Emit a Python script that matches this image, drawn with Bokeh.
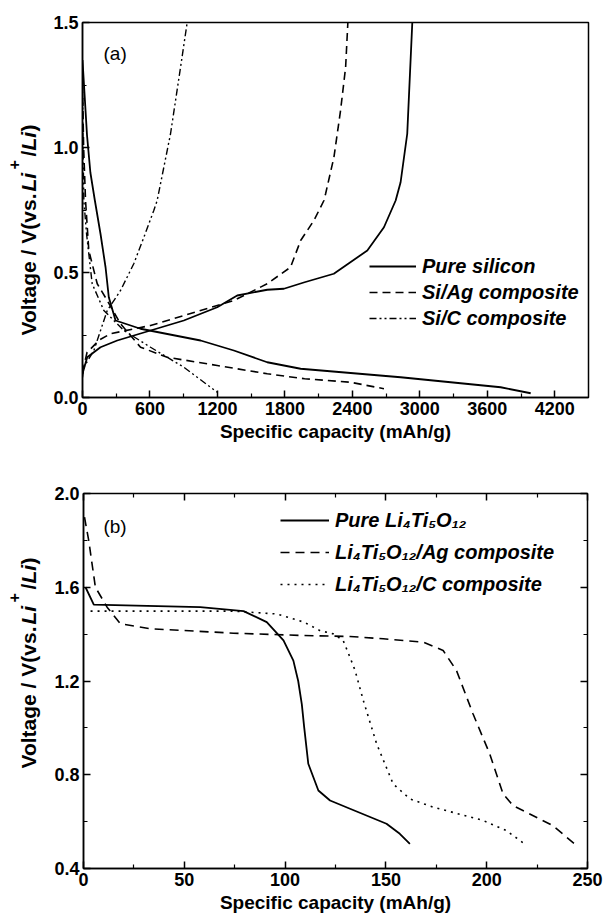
import math
from bokeh.plotting import figure
from bokeh.models import (Range1d, FixedTicker, NumeralTickFormatter, LinearAxis, Label)
from bokeh.layouts import column, row
from bokeh.embed import file_html
from bokeh.resources import INLINE

FONT = "Liberation Sans"

# ---------------- Panel (a) data: silicon anodes ----------------
si_dis_cap = [0, 20, 40, 70, 110, 160, 205, 234, 294, 516, 1050, 1346, 1643, 1940, 2829, 3719, 3986]
si_dis_v = [1.35, 1.2, 1.05, 0.9, 0.788, 0.655, 0.521, 0.401, 0.308, 0.275, 0.228, 0.188, 0.141, 0.115, 0.081, 0.041, 0.017]
si_chg_cap = [0, 42, 160, 309, 605, 901, 1198, 1376, 1643, 1791, 1975, 2235, 2533, 2681, 2785, 2829, 2888, 2933]
si_chg_v = [0.095, 0.161, 0.201, 0.228, 0.268, 0.308, 0.361, 0.408, 0.431, 0.435, 0.461, 0.495, 0.588, 0.681, 0.788, 0.861, 1.055, 1.5]

ag_dis_cap = [0, 10, 27, 56, 131, 220, 338, 516, 753, 1198, 1643, 1975, 2384, 2681]
ag_dis_v = [1.25, 1.0, 0.788, 0.588, 0.455, 0.388, 0.295, 0.201, 0.161, 0.128, 0.095, 0.075, 0.061, 0.035]
ag_chg_cap = [0, 40, 150, 249, 605, 1050, 1346, 1643, 1850, 1940, 2058, 2147, 2162, 2236, 2295, 2340, 2360]
ag_chg_v = [0.1, 0.18, 0.23, 0.255, 0.288, 0.348, 0.388, 0.455, 0.521, 0.628, 0.708, 0.788, 0.815, 0.961, 1.148, 1.321, 1.5]

sic_dis_cap = [0, 5, 12, 36, 86, 190, 368, 605, 901, 1198]
sic_dis_v = [1.3, 1.0, 0.788, 0.655, 0.455, 0.348, 0.268, 0.201, 0.121, 0.021]
sic_chg_cap = [0, 12, 101, 220, 338, 456, 546, 634, 664, 783, 872, 931]
sic_chg_v = [0.08, 0.121, 0.188, 0.348, 0.428, 0.535, 0.641, 0.748, 0.788, 1.055, 1.321, 1.5]

a_xticks = [0, 600, 1200, 1800, 2400, 3000, 3600, 4200]
a_xminor = [300, 900, 1500, 2100, 2700, 3300, 3900]
a_yticks = [0.0, 0.5, 1.0, 1.5]
a_yminor = [0.25, 0.75, 1.25]

# ---------------- Panel (b) data: Li4Ti5O12 ----------------
lto_cap = [1, 5.1, 57.9, 79.4, 90.9, 99.2, 104.1, 106.5, 108.3, 109.5, 111.5, 116.5, 122.3, 132.2, 150.3, 156.9, 161.9]
lto_v = [1.6, 1.526, 1.515, 1.498, 1.451, 1.373, 1.287, 1.2, 1.1, 1.0, 0.847, 0.733, 0.690, 0.655, 0.591, 0.548, 0.505]
ltoag_cap = [0.5, 2.6, 5.9, 11.7, 18.3, 33.2, 74.4, 109.4, 132.2, 148.7, 168.5, 178.4, 185, 193.2, 201.5, 208.1, 213, 219.7, 232.8, 243.6]
ltoag_v = [1.899, 1.799, 1.6, 1.515, 1.444, 1.423, 1.404, 1.394, 1.390, 1.380, 1.366, 1.330, 1.245, 1.060, 0.889, 0.719, 0.669, 0.640, 0.583, 0.505]
ltoc_cap = [3.5, 74.4, 95.9, 109.4, 117.3, 123.9, 128.8, 132.2, 134.7, 138.8, 145.4, 153.6, 161.9, 173.4, 198.2, 209.7, 218.8]
ltoc_v = [1.498, 1.498, 1.486, 1.451, 1.415, 1.401, 1.373, 1.301, 1.245, 1.117, 0.932, 0.761, 0.697, 0.662, 0.605, 0.562, 0.505]

b_xticks = [0, 50, 100, 150, 200, 250]
b_xminor = [25, 75, 125, 175, 225]
b_yticks = [0.4, 0.8, 1.2, 1.6, 2.0]
b_yminor = [0.6, 1.0, 1.4, 1.8]

XLABEL = "Specific capacity (mAh/g)"
# y-axis title pieces: (text, style, size, offset along text, shift toward the top of the glyphs)
YLABEL_PARTS = [
    ("Voltage / V(vs.", "bold", "21px", 0, 0),
    ("Li", "bold italic", "21px", 144, 0),
    ("+", "bold", "16px", 166, 15),
    ("/", "bold", "21px", 179, 0),
    ("Li", "bold italic", "21px", 185, 0),
    (")", "bold", "21px", 204, 0),
]

LBL_W = 50


def style(p, xt, xm, yt, ym):
    p.grid.visible = False
    p.outline_line_color = "black"
    p.outline_line_width = 1.5
    for ax, t, m in ((p.xaxis[0], xt, xm), (p.yaxis[0], yt, ym)):
        ax.ticker = FixedTicker(ticks=t, minor_ticks=m)
        ax.axis_line_width = 1.5
        ax.axis_line_color = "black"
        ax.major_tick_in = 7
        ax.major_tick_out = 0
        ax.minor_tick_in = 4
        ax.minor_tick_out = 0
        ax.major_tick_line_width = 1.5
        ax.minor_tick_line_width = 1.2
        ax.major_label_text_font = FONT
        ax.major_label_text_font_style = "bold"
        ax.major_label_text_font_size = "18px"
        ax.major_label_text_color = "black"
        ax.major_label_standoff = 4
        ax.axis_label_text_font = FONT
        ax.axis_label_text_font_style = "bold"
        ax.axis_label_text_font_size = "19px"
        ax.axis_label_text_color = "black"
    p.xaxis[0].axis_label = XLABEL
    p.xaxis[0].axis_label_standoff = 3


def ylabel_fig(height, b_top, b_bottom, y0, xc):
    # narrow canvas whose data units equal canvas pixels (y measured from the canvas bottom);
    # its borders match the neighbouring plot so the aligned frames agree
    f = figure(width=LBL_W, height=height, output_backend="svg", toolbar_location=None,
               x_range=Range1d(0, LBL_W), y_range=Range1d(b_bottom, height - b_top),
               x_axis_location=None, y_axis_location=None,
               min_border_left=0, min_border_right=0,
               min_border_top=b_top, min_border_bottom=b_bottom)
    f.outline_line_color = None
    f.grid.visible = False
    for text, st, size, off, raise_ in YLABEL_PARTS:
        f.add_layout(Label(x=xc - raise_, y=y0 + off, text=text,
                           angle=math.pi / 2, angle_units="rad",
                           text_font=FONT, text_font_style=st, text_font_size=size,
                           text_align="left", text_baseline="middle", text_color="black"))
    return f


def style_legend(p, loc, spacing, gh, gw):
    lg = p.legend[0]
    lg.location = loc
    lg.border_line_color = None
    lg.background_fill_alpha = 0
    lg.padding = 0
    lg.margin = 0
    lg.spacing = spacing
    lg.glyph_height = gh
    lg.label_height = gh
    lg.glyph_width = gw
    lg.label_standoff = 6
    lg.label_text_font = FONT
    lg.label_text_font_style = "bold italic"
    lg.label_text_font_size = "20px"
    lg.label_text_color = "black"
    lg.label_text_baseline = "middle"


# ---------------- Panel (a) ----------------
pa = figure(width=608 - LBL_W, height=458, output_backend="svg", toolbar_location=None,
            x_range=Range1d(0, 4500), y_range=Range1d(0, 1.5),
            min_border_left=82 - LBL_W, min_border_right=20, min_border_top=22, min_border_bottom=61)
style(pa, a_xticks, a_xminor, a_yticks, a_yminor)
pa.yaxis[0].formatter = NumeralTickFormatter(format="0.0")

pa.line(si_dis_cap, si_dis_v, line_color="black", line_width=1.8, legend_label="Pure silicon")
pa.line(si_chg_cap, si_chg_v, line_color="black", line_width=1.8)
pa.line(ag_dis_cap, ag_dis_v, line_color="black", line_width=1.6, line_dash="8 5", legend_label="Si/Ag composite")
pa.line(ag_chg_cap, ag_chg_v, line_color="black", line_width=1.6, line_dash="8 5")
pa.line(sic_dis_cap, sic_dis_v, line_color="black", line_width=1.4, line_dash="7 3 2 3 2 3", legend_label="Si/C composite")
pa.line(sic_chg_cap, sic_chg_v, line_color="black", line_width=1.4, line_dash="7 3 2 3 2 3")
style_legend(pa, (287, 67), 2, 24, 47)

pa.add_layout(Label(x=187, y=1.376, text="(a)", text_font=FONT, text_font_size="19px",
                    text_baseline="middle", text_color="black"))
la = ylabel_fig(458, 22, 61, 123, 28)

# ---------------- Panel (b) ----------------
pb = figure(width=608 - LBL_W, height=464, output_backend="svg", toolbar_location=None,
            x_range=Range1d(0, 250), y_range=Range1d(0.4, 2.0),
            min_border_left=83 - LBL_W, min_border_right=21, min_border_top=35, min_border_bottom=54)
style(pb, b_xticks, b_xminor, b_yticks, b_yminor)
pb.yaxis[0].formatter = NumeralTickFormatter(format="0.0")

for loc, t, m in (("above", b_xticks, b_xminor), ("right", b_yticks, b_yminor)):
    ax = LinearAxis(ticker=FixedTicker(ticks=t, minor_ticks=m))
    ax.axis_line_color = None
    ax.major_tick_in = 7
    ax.major_tick_out = 0
    ax.minor_tick_in = 4
    ax.minor_tick_out = 0
    ax.major_tick_line_width = 1.5
    ax.minor_tick_line_width = 1.2
    ax.major_label_overrides = {v: "" for v in t}
    ax.major_label_text_color = None
    ax.major_label_standoff = 0
    pb.add_layout(ax, loc)

pb.line(lto_cap, lto_v, line_color="black", line_width=1.8, legend_label="Pure Li\u2084Ti\u2085O\u2081\u2082")
pb.line(ltoag_cap, ltoag_v, line_color="black", line_width=1.6, line_dash="9 6",
        legend_label="Li\u2084Ti\u2085O\u2081\u2082/Ag composite")
pb.line(ltoc_cap, ltoc_v, line_color="black", line_width=1.6, line_dash="2 5",
        legend_label="Li\u2084Ti\u2085O\u2081\u2082/C composite")
style_legend(pb, (197, 272), 8, 24, 49)

pb.add_layout(Label(x=9.9, y=1.859, text="(b)", text_font=FONT, text_font_size="19px",
                    text_baseline="middle", text_color="black"))
lb = ylabel_fig(464, 35, 54, 154, 28)

layout = column(row(la, pa, spacing=0), row(lb, pb, spacing=0), spacing=0)
open("out.html", "w").write(file_html(layout, INLINE))
